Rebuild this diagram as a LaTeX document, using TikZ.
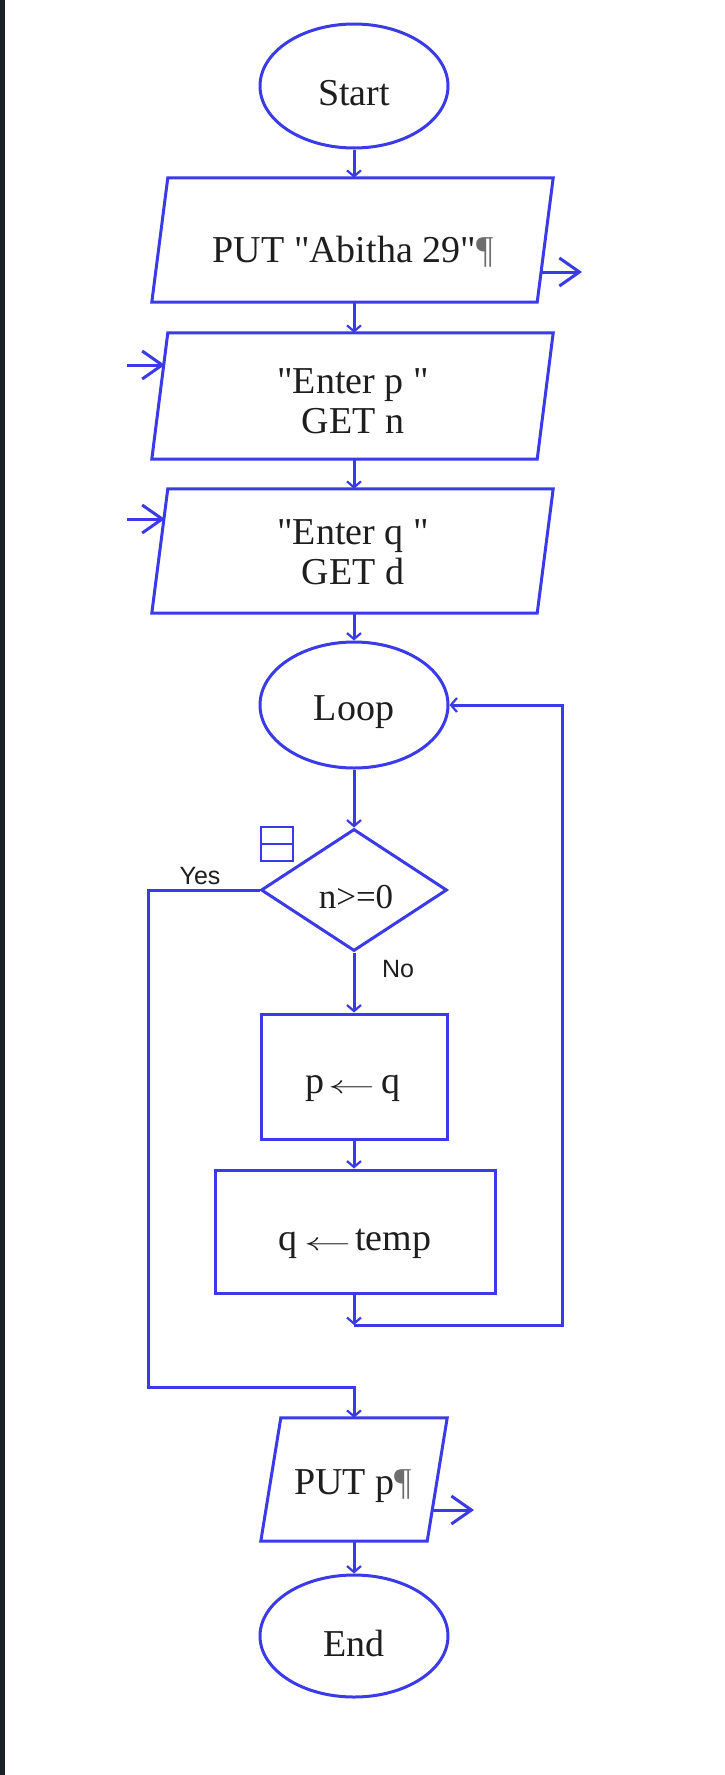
\documentclass[tikz,border=0pt]{standalone}
\usepackage{fontspec}
\setmainfont{Liberation Serif}[Ligatures=TeXOff]
\newfontfamily\sansf{Liberation Sans}
\usetikzlibrary{shapes.geometric,arrows.meta}
\definecolor{fblue}{RGB}{58,58,232}
\definecolor{ftext}{RGB}{30,30,30}
\definecolor{pilcrow}{RGB}{110,110,110}
\definecolor{stripc}{RGB}{28,33,40}
\newcommand\larr{\scalebox{1.9}[1]{$\leftarrow$}}
\begin{document}
\begin{tikzpicture}[x=1pt,y=-1pt,
  shp/.style={draw=fblue, line width=3pt, inner sep=0pt},
  term/.style={shp, ellipse, minimum width=188pt, minimum height=124pt},
  procbox/.style={shp, rectangle},
  ioholder/.style={draw=none, rectangle, inner sep=0pt},
  decision/.style={shp, diamond, minimum width=186pt, minimum height=122pt},
  txt/.style={text=ftext, font=\fontsize{38}{40}\selectfont, align=center, inner sep=0pt},
  lbl/.style={text=ftext, font=\sansf\fontsize{25}{27}\selectfont, inner sep=0pt},
  plain/.style={draw=fblue, line width=3pt},
  conn/.style={plain, -{Straight Barb[length=6pt,width=14pt,line width=2.2pt]}},
  ioarrow/.style={plain, -{Straight Barb[length=20pt,width=28pt,line width=3pt]}}
]
\fill[white] (0,0) rectangle (725,1775);
\fill[stripc] (0,0) rectangle (4.5,1775);
\useasboundingbox (0,0) rectangle (725,1775);

% shapes
\node[term] (start) at (354,86) {};
\node[ioholder, minimum width=401pt, minimum height=124pt] (p1) at (352.5,240) {};
\node[ioholder, minimum width=401pt, minimum height=126pt] (p2) at (352.5,396) {};
\node[ioholder, minimum width=401pt, minimum height=124pt] (p3) at (352.5,551) {};
\node[term, minimum height=126pt] (loop) at (354,705) {};
\node[decision] (dia) at (354,890) {};
\node[procbox, minimum width=186pt, minimum height=125pt] (pq) at (354,1076.5) {};
\node[procbox, minimum width=280pt, minimum height=123.5pt] (qt) at (355,1231.75) {};
\node[ioholder, minimum width=186pt, minimum height=123pt] (pput) at (354,1479.5) {};
\node[term, minimum height=122pt] (end) at (354,1636) {};

% parallelograms
\foreach \n/\s in {p1/16, p2/16, p3/16, pput/20}{
  \draw[plain, line join=miter] ([xshift=\s pt]\n.north west) -- (\n.north east)
     -- ([xshift=-\s pt]\n.south east) -- (\n.south west) -- cycle;
}

% collapse icon
\node[shp, line width=2.6pt, minimum width=32pt, minimum height=34pt] (icon) at (277,844) {};
\draw[plain, line width=2.6pt] (icon.west) -- (icon.east);

% texts
\node[txt] (tstart) at (354,93) {Start};
\node[txt] (tp1) at (353,252) {PUT "Abitha 29"{\color{pilcrow}¶}};
\node[txt] (tp2) at (353,401) {"Enter p "\\GET n};
\node[txt] (tp3) at (353,552.5) {"Enter q "\\GET d};
\node[txt] (tloop) at (354,712) {Loop};
\node[txt, font=\fontsize{35}{38}\selectfont] (tdia) at (356,897) {n>=0};
\node[txt] (tpq) at (353,1088) {p\kern3pt\larr\kern6pt q};
\node[txt] (tqt) at (355,1244) {q\kern6pt\larr\kern4pt temp};
\node[txt] (tpput) at (353,1486) {PUT p{\color{pilcrow}¶}};
\node[txt] (tend) at (354,1643) {End};
\node[lbl] (yes) at (200,876) {Yes};
\node[lbl] (no) at (398,969) {No};

% connectors
\draw[conn] (start.south) -- (start.south |- p1.north);
\draw[conn] (p1.south -| start.south) -- (p2.north -| start.south);
\draw[conn] (p2.south -| start.south) -- (p3.north -| start.south);
\draw[conn] (p3.south -| start.south) -- (loop.north);
\draw[conn] (loop.south) -- (dia.north);
\draw[conn] (dia.south) -- (pq.north);
\draw[conn] (pq.south) -- (pq.south |- qt.north);
\coordinate (ret) at (354,1325);
\coordinate (retR) at (562,1325);
\draw[conn] (qt.south -| ret) -- (ret);
\draw[conn] (ret) -- (retR) |- (loop.east);
\coordinate (yc) at (148,1387);
\draw[conn] (dia.west) -| (yc) -| (pput.north);
\draw[conn] (pput.south) -- (end.north);

% input / output arrows
\coordinate (o1) at (582,272);
\coordinate (i2) at (127,365);
\coordinate (i3) at (127,519);
\coordinate (o4) at (474,1510);
\draw[ioarrow] ([shift={(-13,32)}]p1.east) -- (o1);
\draw[ioarrow] (i2) -- ([shift={(13,-31)}]p2.west);
\draw[ioarrow] (i3) -- ([shift={(13,-32)}]p3.west);
\draw[ioarrow] ([shift={(-15,30.5)}]pput.east) -- (o4);
\end{tikzpicture}
\end{document}
